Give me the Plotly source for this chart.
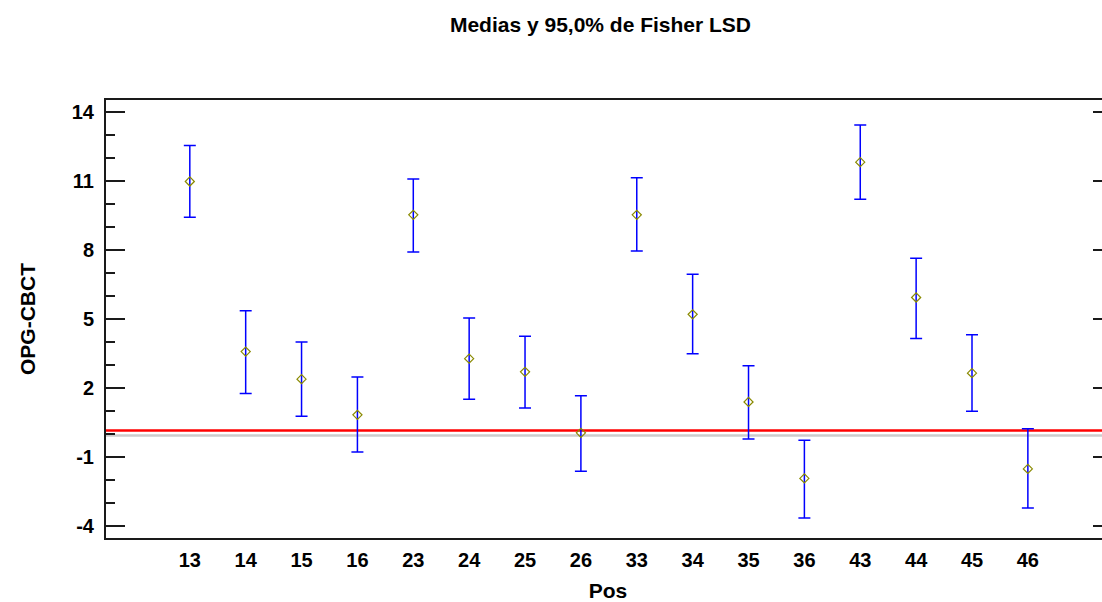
import plotly.graph_objects as go

# Data
positions = ["13", "14", "15", "16", "23", "24", "25", "26",
             "33", "34", "35", "36", "43", "44", "45", "46"]
means = [10.97, 3.58, 2.38, 0.83, 9.52, 3.27, 2.70, 0.05,
         9.52, 5.20, 1.39, -1.93, 11.81, 5.93, 2.64, -1.52]
upper = [12.53, 5.35, 4.00, 2.48, 11.08, 5.04, 4.25, 1.66,
         11.13, 6.94, 2.96, -0.27, 13.42, 7.63, 4.31, 0.23]
lower = [9.42, 1.76, 0.77, -0.78, 7.91, 1.51, 1.13, -1.62,
         7.95, 3.48, -0.22, -3.65, 10.20, 4.15, 0.99, -3.22]
y_tick_values = [-4, -1, 2, 5, 8, 11, 14]
red_line_value = 0.15
gray_line_value = -0.07

err_plus = [u - m for u, m in zip(upper, means)]
err_minus = [m - l for m, l in zip(means, lower)]

FONT = "Liberation Sans, Arial, sans-serif"
AXIS_COLOR = "#1a1a1a"
y_range = [-4.52, 14.51]

fig = go.Figure()

fig.add_trace(go.Scatter(
    x=positions, y=means, mode="markers",
    marker=dict(symbol="diamond-open", size=7, color="#8a8a00",
                line=dict(width=1.2, color="#8a8a00")),
    error_y=dict(type="data", symmetric=False, array=err_plus,
                 arrayminus=err_minus, color="#0000ff",
                 thickness=1.5, width=6),
    showlegend=False, hoverinfo="x+y",
))

# invisible trace on secondary axis to draw right-side ticks
fig.add_trace(go.Scatter(x=[positions[0]], y=[means[0]], yaxis="y2",
                         mode="markers", marker=dict(opacity=0),
                         showlegend=False, hoverinfo="skip"))

fig.add_shape(type="line", xref="paper", x0=0, x1=1, yref="y",
              y0=gray_line_value, y1=gray_line_value,
              line=dict(color="#cccccc", width=2.5), layer="below")
fig.add_shape(type="line", xref="paper", x0=0, x1=1, yref="y",
              y0=red_line_value, y1=red_line_value,
              line=dict(color="#ff0000", width=2.5), layer="below")

fig.update_layout(
    width=1110, height=602,
    paper_bgcolor="white", plot_bgcolor="white",
    margin=dict(l=106, r=0, t=100, b=64, autoexpand=False),
    font=dict(family=FONT, size=20, color="black", weight="bold"),
    title=dict(text="Medias y 95,0% de Fisher LSD",
               font=dict(family=FONT, size=21, color="black", weight="bold"),
               x=0.4925, xref="paper", xanchor="center",
               y=1 - 25 / 602, yref="container", yanchor="middle"),
    xaxis=dict(
        type="category", categoryorder="array", categoryarray=positions,
        range=[-1.5, 16.47], automargin=False,
        showgrid=False, zeroline=False,
        showline=True, linecolor=AXIS_COLOR, linewidth=2, mirror=True,
        ticks="", ticklabelstandoff=3,
        tickfont=dict(family=FONT, size=20, weight="bold"),
        title=dict(text="Pos", standoff=14,
                   font=dict(family=FONT, size=21, weight="bold")),
    ),
    yaxis=dict(
        range=y_range, tickvals=y_tick_values, automargin=False,
        ticktext=[str(v) for v in y_tick_values],
        showgrid=False, zeroline=False,
        showline=True, linecolor=AXIS_COLOR, linewidth=2, mirror=False,
        ticks="inside", ticklen=19, tickwidth=2, tickcolor=AXIS_COLOR,
        ticklabelstandoff=6,
        minor=dict(dtick=1, tick0=-4, ticks="inside", ticklen=9,
                   tickwidth=2, tickcolor=AXIS_COLOR, showgrid=False),
        tickfont=dict(family=FONT, size=20, weight="bold"),
        title=dict(text="OPG-CBCT", standoff=30,
                   font=dict(family=FONT, size=21, weight="bold")),
    ),
    yaxis2=dict(
        overlaying="y", side="right", range=y_range, automargin=False,
        anchor="free", position=0.992,
        tickvals=y_tick_values, showticklabels=False,
        showgrid=False, zeroline=False, showline=False,
        ticks="inside", ticklen=9, tickwidth=2, tickcolor=AXIS_COLOR,
    ),
)

fig.write_html(
    "out.html",
    config={"displayModeBar": False},
    post_script="document.body.style.margin='0';"
                "document.body.style.overflow='hidden';",
)
